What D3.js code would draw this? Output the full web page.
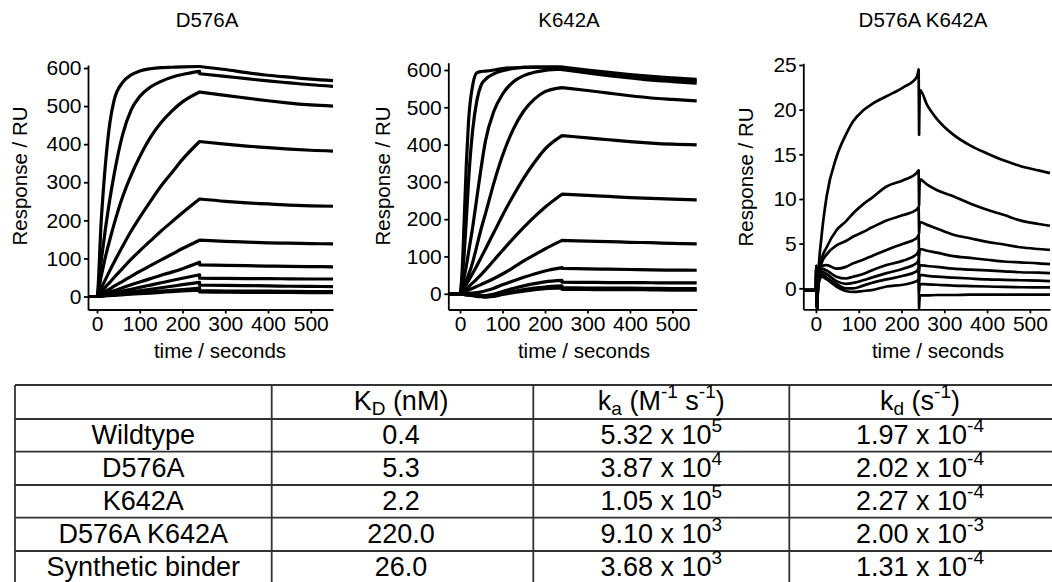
<!DOCTYPE html>
<html><head><meta charset="utf-8">
<script src="https://cdn.jsdelivr.net/npm/d3@7"></script>
<style>html,body{margin:0;padding:0;background:#fff;} svg{display:block;} text{white-space:pre;}</style>
</head><body><svg id="chart" width="1052" height="582"></svg>
<script>
// ---------------- DATA ----------------
const panelTitles = ["D576A", "K642A", "D576A K642A"];
const xTickValues = [0, 100, 200, 300, 400, 500];
const yTicksRU = [0, 100, 200, 300, 400, 500, 600];
const yTicksSmall = [0, 5, 10, 15, 20, 25];
const xAxisLabel = "time / seconds";
const yAxisLabel = "Response / RU";

// Panel 1: D576A
const d576aAssocTimes = [-21, 0, 10, 20, 30, 40, 60, 80, 100, 125, 150, 175, 200, 240];
const d576aAssoc = [
  [0,0,200,350,455,515,562,582,592,598,601,602,603,604],
  [0,0,95,180,255,320,425,490,525,550,565,576,583,591],
  [0,0,54,105,149,190,262,319,367,418,457,487,511,537],
  [0,0,22,45,68,90,132,172,208,250,290,325,360,407],
  [0,0,12,25,37,50,74,98,120,146,172,196,220,256],
  [0,0,7,14,20,27,40,53,66,81,96,111,126,148],
  [0,0,4,8,12,15,23,31,38,47,56,64,73,90],
  [0,0,2,5,7,10,14,19,24,30,36,42,48,57],
  [0,0,1.5,3,5,6,9,12,15,19,23,27,31,37],
  [0,0,1,2,3,4,6,8,10,12,14,16,18,22],
  [0,0,1,2,2.5,3,4.5,6,7.5,9,11,13,14.5,17]
];
const d576aDissTimes = [240, 300, 350, 400, 450, 500, 552];
const d576aDiss = [
  [604,596,588,581,576,571,567],
  [585,578,572,566,561,556,552],
  [537,528,521,514,508,503,500],
  [407,400,395,391,387,384,382],
  [256,250,246,243,240,238,237],
  [148,145,143,141,140,139,138],
  [83,82,81,80,79,78.5,78],
  [48,47.5,47,47,46.5,46,46],
  [30,29,28.5,28,27,26.5,26],
  [15,14.5,14,14,13.5,13,13],
  [12,11.5,11,11,10.5,10,10]
];

// Panel 2: K642A
const k642aAssocTimes = [-27.5, 0, 5, 10, 15, 20, 30, 40, 50, 60, 80, 100, 125, 150, 175, 200, 240];
const k642aAssoc = [
  [0,0,60,200,350,460,560,593,596,597,600,604,606,607,608,608,608],
  [0,0,40,110,200,300,440,520,560,575,590,598,604,607,608,608,608],
  [0,0,20,45,75,110,180,260,340,410,490,535,568,585,594,599,602],
  [0,0,10,22,35,50,85,130,175,215,298,370,440,490,522,542,553],
  [0,0,8,17,26,35,55,76,98,120,165,210,262,310,352,388,424],
  [0,0,4,9,14,19,29,40,52,64,90,116,148,178,206,232,267],
  [0,0,2,4,7,10,15,20,25,30,41,53,70,88,104,120,143],
  [0,0,0,0,1,1,2,3,5,8,15,24,34,44,53,61,70],
  [0,0,-1,-2,-3,-3,-4,-5,-5,-5,-1,6,14,21,27,32,36],
  [0,0,-1,-2,-3,-3,-5,-7,-8,-9,-6,0,6,11,15,18,21],
  [0,0,-1,-1,-2,-3,-4,-6,-7,-8,-7,-2,3,7,11,14,16]
];
const k642aDissTimes = [240, 300, 350, 400, 450, 500, 557];
const k642aDiss = [
  [608,600,594,588,583,579,575],
  [606,597,590,584,578,574,570],
  [601,592,585,579,573,569,565],
  [553,545,538,531,525,521,517],
  [424,418,413,408,404,401,399],
  [267,264,261,258,256,254,252],
  [143,141,140,138,137,135,134],
  [68,67,66,65,64,63.5,63],
  [31,30.5,30,30,29.5,29,29],
  [16,15.5,15,15,14.5,14,14],
  [12,11.5,11,11,10.5,10,10]
];

// Panel 3: D576A K642A
const doubleAssocTimes = [-29.6, 0, 1, 2.5, 5, 13, 25, 48, 70, 87, 110, 130, 165, 204, 235, 240];
const doubleAssoc = [
  [-0.2,-0.2,2.5,-2.3,1.0,5.8,10.3,14.7,17.2,18.7,19.9,20.6,21.5,22.5,23.6,24.5],
  [-0.2,-0.2,2.5,-2.3,0.8,3.2,4.6,6.5,7.5,8.4,9.4,10.1,11.4,12.1,12.9,13.2],
  [-0.2,-0.2,2.5,-2.3,0.7,2.8,3.8,4.8,5.3,5.8,6.3,6.8,7.6,8.2,8.8,9.1],
  [-0.2,-0.2,2.5,-2.3,0.6,2.5,2.6,2.2,2.4,2.8,3.2,3.6,4.3,5.0,5.6,6.0],
  [-0.2,-0.2,2.5,-2.3,0.5,2.2,2.0,1.3,1.1,1.3,1.6,2.0,2.6,3.1,3.8,4.2],
  [-0.2,-0.2,2.5,-2.3,0.4,1.9,1.6,0.8,0.5,0.6,0.9,1.2,1.7,2.2,2.8,3.2],
  [-0.2,-0.2,2.5,-2.3,0.3,1.6,1.2,0.5,0.0,0.0,0.3,0.6,1.0,1.4,1.9,2.3],
  [-0.2,-0.2,2.5,-2.3,0.2,1.3,1.0,0.2,-0.3,-0.4,-0.3,-0.2,0.2,0.4,0.8,1.0]
];
const doubleDissTimes = [241, 243, 260, 282, 321, 360, 400, 440, 477, 520, 547];
const doubleDiss = [
  [17.2,22.2,20.5,19.0,17.2,16.0,15.1,14.3,13.7,13.2,12.9],
  [9.3,12.2,11.6,11.0,10.3,9.5,8.8,8.2,7.6,7.2,7.0],
  [6.2,7.4,7.1,6.7,6.0,5.6,5.2,4.9,4.6,4.4,4.3],
  [3.6,4.4,4.2,4.0,3.6,3.4,3.2,3.0,2.9,2.8,2.7],
  [2.0,2.6,2.5,2.4,2.2,2.1,2.0,1.9,1.8,1.75,1.7],
  [0.8,1.5,1.4,1.3,1.2,1.1,1.0,0.95,0.9,0.85,0.8],
  [-0.3,0.5,0.45,0.4,0.3,0.25,0.2,0.15,0.12,0.1,0.1],
  [-2.2,-0.8,-0.8,-0.75,-0.75,-0.7,-0.7,-0.7,-0.7,-0.7,-0.7]
];

// Table
const tableRowLabels = ["Wildtype", "D576A", "K642A", "D576A K642A", "Synthetic binder"];
const kdNanomolar = ["0.4", "5.3", "2.2", "220.0", "26.0"];
const kaMantissa = ["5.32", "3.87", "1.05", "9.10", "3.68"];
const kaExponent = ["5", "4", "5", "3", "3"];
const kdissMantissa = ["1.97", "2.02", "2.27", "2.00", "1.31"];
const kdissExponent = ["-4", "-4", "-4", "-3", "-4"];

// ---------------- DRAW ----------------
const FONT = "'Liberation Sans', Arial, Helvetica, sans-serif";
const svg = d3.select("#chart");
svg.append("rect").attr("width", 1052).attr("height", 582).attr("fill", "#fff");

const panels = [
  {title: panelTitles[0], xDomain: [-21, 552], yDomain: [-34.1, 607.9], left: 88, right: 333, top: 65, bottom: 309.5,
   yTicks: yTicksRU, aT: d576aAssocTimes, aV: d576aAssoc, dT: d576aDissTimes, dV: d576aDiss, sw: 3.2,
   titleX: 207, xLabX: 220, yLabX: 27, yLabY: 176},
  {title: panelTitles[1], xDomain: [-27.5, 557], yDomain: [-42.2, 619.6], left: 448.3, right: 696.7, top: 62.7, bottom: 309.5,
   yTicks: yTicksRU, aT: k642aAssocTimes, aV: k642aAssoc, dT: k642aDissTimes, dV: k642aDiss, sw: 3.2,
   titleX: 569, xLabX: 584, yLabX: 390, yLabY: 176},
  {title: panelTitles[2], xDomain: [-29.6, 547], yDomain: [-2.35, 25.19], left: 803.3, right: 1050, top: 63.3, bottom: 309.3,
   yTicks: yTicksSmall, aT: doubleAssocTimes, aV: doubleAssoc, dT: doubleDissTimes, dV: doubleDiss, sw: 2.7,
   titleX: 923, xLabX: 938, yLabX: 753, yLabY: 177}
];

panels.forEach((p, pi) => {
  const g = svg.append("g");
  const x = d3.scaleLinear().domain(p.xDomain).range([p.left, p.right]);
  const y = d3.scaleLinear().domain(p.yDomain).range([p.bottom, p.top]);
  const line = d3.line().x(d => x(d[0])).y(d => y(d[1])).curve(d3.curveMonotoneX);

  p.aV.forEach((vals, i) => {
    const a = p.aT.map((t, j) => [t, vals[j]]);
    const d = p.dT.map((t, j) => [t, p.dV[i][j]]);
    g.append("path")
      .attr("d", line(a) + line(d).replace(/^M/, "L"))
      .attr("fill", "none").attr("stroke", "#000")
      .attr("stroke-width", p.sw).attr("stroke-linejoin", "round").attr("stroke-linecap", "butt");
  });

  const xAxis = d3.axisBottom(x).tickValues(xTickValues).tickSize(4).tickPadding(3).tickSizeOuter(0);
  const yAxis = d3.axisLeft(y).tickValues(p.yTicks).tickSize(4).tickPadding(2.5).tickSizeOuter(0);
  const gx = g.append("g").attr("transform", `translate(0,${p.bottom})`).call(xAxis);
  const gy = g.append("g").attr("transform", `translate(${p.left},0)`).call(yAxis);
  [gx, gy].forEach(ax => {
    ax.select(".domain").attr("stroke", "#000").attr("stroke-width", 1.8);
    ax.selectAll(".tick line").attr("stroke", "#000").attr("stroke-width", 1.8);
    ax.selectAll(".tick text").attr("fill", "#000").style("font-family", FONT).style("font-size", "21px");
  });

  svg.append("text").attr("x", p.titleX).attr("y", 27).attr("text-anchor", "middle")
    .style("font-family", FONT).style("font-size", "20.5px").attr("fill", "#000").text(p.title);
  svg.append("text").attr("x", p.xLabX).attr("y", 358).attr("text-anchor", "middle")
    .style("font-family", FONT).style("font-size", "20.5px").attr("fill", "#000").text(xAxisLabel);
  svg.append("text").attr("transform", `translate(${p.yLabX},${p.yLabY}) rotate(-90)`).attr("text-anchor", "middle")
    .style("font-family", FONT).style("font-size", "20.5px").attr("fill", "#000").text(yAxisLabel);
});

// ---------------- TABLE ----------------
const colX = [15, 271.7, 533.3, 789.3];
const colEdgeRight = 1052;
const rowY = [385, 419, 451.7, 485, 517.7, 551];
const tg = svg.append("g");
rowY.forEach(yy => tg.append("line").attr("x1", 15).attr("x2", colEdgeRight).attr("y1", yy).attr("y2", yy)
  .attr("stroke", "#333").attr("stroke-width", 1.8));
colX.forEach(xx => tg.append("line").attr("x1", xx).attr("x2", xx).attr("y1", rowY[0]).attr("y2", 600)
  .attr("stroke", "#333").attr("stroke-width", 1.8));

const colCenters = [143.3, 401, 661.3, 920];
const TS = 27, SS = 19;
function richText(cx, by, parts) {
  const t = tg.append("text").attr("x", cx).attr("y", by).attr("text-anchor", "middle")
    .style("font-family", FONT).style("font-size", TS + "px").attr("fill", "#000");
  let shift = 0;
  parts.forEach(([s, type]) => {
    const target = type === "sup" ? -12 : type === "sub" ? 5 : 0;
    const ts = t.append("tspan").attr("dy", target - shift).text(s);
    if (type !== "n") ts.style("font-size", SS + "px");
    shift = target;
  });
}
const headerParts = [
  [["K","n"],["D","sub"],[" (nM)","n"]],
  [["k","n"],["a","sub"],[" (M","n"],["-1","sup"],[" s","n"],["-1","sup"],[")","n"]],
  [["k","n"],["d","sub"],[" (s","n"],["-1","sup"],[")","n"]]
];
headerParts.forEach((parts, i) => richText(colCenters[i + 1], rowY[0] + 24.5, parts));
tableRowLabels.forEach((lab, i) => {
  const by = rowY[i + 1] + 25;
  richText(colCenters[0], by, [[lab, "n"]]);
  richText(colCenters[1], by, [[kdNanomolar[i], "n"]]);
  richText(colCenters[2], by, [[kaMantissa[i] + " x 10", "n"], [kaExponent[i], "sup"]]);
  richText(colCenters[3], by, [[kdissMantissa[i] + " x 10", "n"], [kdissExponent[i], "sup"]]);
});
</script></body></html>
